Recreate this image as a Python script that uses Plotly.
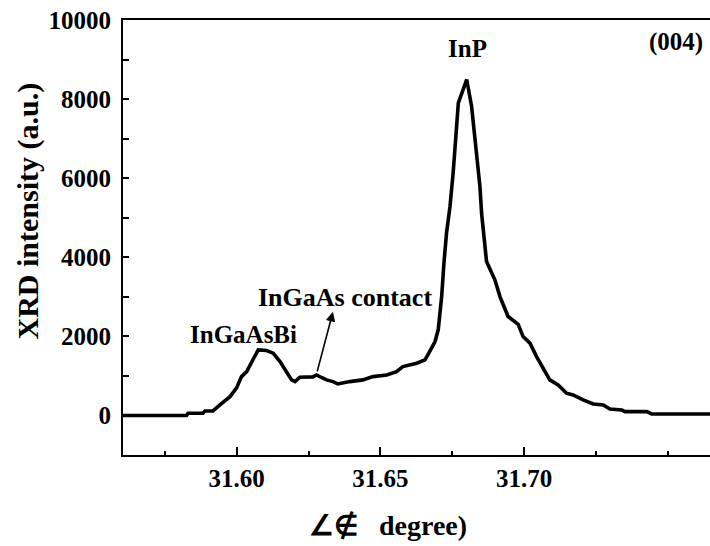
import plotly.graph_objects as go

# 2-theta (degree)
two_theta = [31.5605, 31.5826, 31.5831, 31.5883, 31.5890, 31.5918, 31.5942, 31.5977,
             31.6000, 31.6017, 31.6035, 31.6052, 31.6075, 31.6104, 31.6127, 31.6151,
             31.6174, 31.6191, 31.6203, 31.6220, 31.6265, 31.6278, 31.6295, 31.6313,
             31.6335, 31.6352, 31.6394, 31.6439, 31.6474, 31.6522, 31.6556, 31.6578,
             31.6626, 31.6655, 31.6665, 31.6690, 31.6701, 31.6713, 31.6721, 31.6730,
             31.6742, 31.6753, 31.6771, 31.6800, 31.6817, 31.6829, 31.6846, 31.6852,
             31.6869, 31.6898, 31.6916, 31.6944, 31.6979, 31.6996, 31.7020, 31.7043,
             31.7089, 31.7118, 31.7147, 31.7170, 31.7205, 31.7240, 31.7275, 31.7298,
             31.7339, 31.7350, 31.7426, 31.7443, 31.7646]
# XRD intensity (a.u.)
intensity = [0, 0, 56, 56, 114, 114, 266, 476,
             696, 982, 1109, 1362, 1658, 1641, 1575, 1362,
             1109, 899, 856, 967, 975, 1025, 960, 899,
             856, 798, 856, 899, 982, 1025, 1109, 1236,
             1322, 1405, 1532, 1869, 2165, 3008, 3861, 4620,
             5287, 6140, 7905, 8495, 7819, 6976, 5793, 5100,
             3894, 3431, 3000, 2502, 2305, 1995, 1828, 1489,
             899, 772, 562, 519, 392, 291, 266, 165,
             139, 96, 96, 38, 38]

x_major = [31.60, 31.65, 31.70]
x_major_text = ["31.60", "31.65", "31.70"]
x_minor = [31.575, 31.625, 31.675, 31.725, 31.75]
y_major = [0, 2000, 4000, 6000, 8000, 10000]
y_major_text = ["0", "2000", "4000", "6000", "8000", "10000"]
y_minor = [1000, 3000, 5000, 7000, 9000]

FONT = "Liberation Serif"

fig = go.Figure()
fig.add_trace(go.Scatter(x=two_theta, y=intensity, mode="lines",
                         line=dict(color="black", width=3.6), showlegend=False,
                         hoverinfo="skip"))

fig.update_layout(
    width=710, height=546,
    margin=dict(l=123, r=0, t=20, b=91),
    plot_bgcolor="white", paper_bgcolor="white",
    font=dict(family=FONT, size=25, color="black", weight="bold"),
    xaxis=dict(range=[31.5605, 31.7646], showline=True, linecolor="black", linewidth=2,
               mirror=True, showgrid=False, zeroline=False,
               tickmode="array", tickvals=x_major, ticktext=x_major_text,
               ticks="inside", ticklen=8, tickwidth=1.5, tickcolor="black",
               ticklabelstandoff=0,
               tickfont=dict(family=FONT, size=25, color="black", weight="bold"),
               minor=dict(tickmode="array", tickvals=x_minor, ticks="inside",
                          ticklen=4, tickwidth=1.5, tickcolor="black")),
    yaxis=dict(range=[-1000, 10000], showline=True, linecolor="black", linewidth=2,
               mirror=False, showgrid=False, zeroline=False,
               tickmode="array", tickvals=y_major, ticktext=y_major_text,
               ticks="inside", ticklen=6, tickwidth=1.5, tickcolor="black",
               ticklabelstandoff=5,
               tickfont=dict(family=FONT, size=25, color="black", weight="bold"),
               minor=dict(tickmode="array", tickvals=y_minor, ticks="inside",
                          ticklen=6, tickwidth=1.5, tickcolor="black")),
)

ann_font = dict(family=FONT, size=25, color="black", weight="bold")
fig.add_annotation(x=31.6804, y=9280, text="InP", showarrow=False, font=ann_font,
                   xanchor="center", yanchor="middle")
fig.add_annotation(x=31.7529, y=9432, text="(004)", showarrow=False, font=ann_font,
                   xanchor="center", yanchor="middle")
fig.add_annotation(x=31.6025, y=2038, text="InGaAsBi", showarrow=False, font=ann_font,
                   xanchor="center", yanchor="middle")
fig.add_annotation(x=31.6377, y=2975, text="InGaAs contact", showarrow=False,
                   font=dict(family=FONT, size=26, color="black", weight="bold"),
                   xanchor="center", yanchor="middle")
# arrow
fig.add_annotation(x=31.6335, y=2620, ax=31.6279, ay=1076, axref="x", ayref="y",
                   xref="x", yref="y", text="", showarrow=True, arrowhead=2,
                   arrowsize=1.2, arrowwidth=1.6, arrowcolor="black")

# axis titles
fig.add_annotation(xref="paper", yref="paper", x=-0.1618, y=0.5598,
                   text="XRD intensity (a.u.)", textangle=-90, showarrow=False,
                   font=dict(family=FONT, size=30, color="black", weight="bold"),
                   xanchor="center", yanchor="middle")
fig.add_annotation(xref="paper", yref="paper", x=0.452, y=-0.161,
                   text="∠∉\u00a0\u00a0 degree)", showarrow=False,
                   font=dict(family=FONT, size=28, color="black", weight="bold"),
                   xanchor="center", yanchor="middle")

fig.write_html("out.html")
